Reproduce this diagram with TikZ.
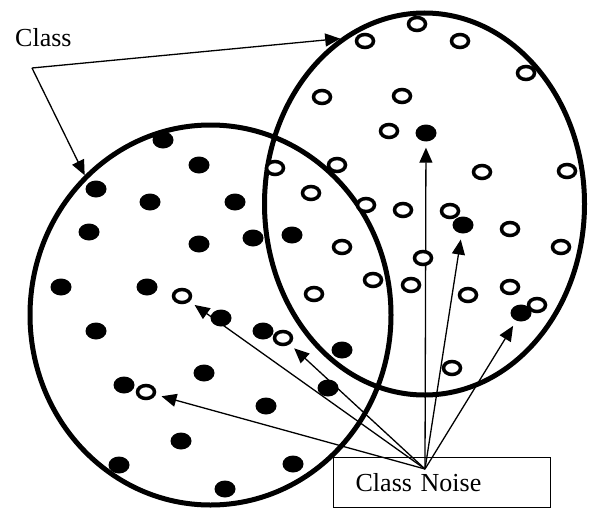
\documentclass[tikz,border=0pt]{standalone}
\usepackage{fontspec}
\setmainfont{Liberation Serif}
\usetikzlibrary{arrows.meta, positioning, shapes.geometric}
\tikzset{
  classell/.style={ellipse, draw, line width=5pt, inner sep=0pt},
  fdot/.style={ellipse, fill=black, minimum width=21pt, minimum height=17pt, inner sep=0pt},
  odot/.style={ellipse, draw, fill=white, line width=3.5pt, minimum width=17pt, minimum height=13pt, inner sep=0pt},
  noisebox/.style={rectangle, draw, line width=1.3pt, minimum height=50pt, text width=173pt, inner xsep=22pt, align=left},
  pointer/.style={-{Triangle[length=15pt, width=13pt]}, line width=1.3pt},
}

\begin{document}
\begin{tikzpicture}[x=1pt, y=-1pt, font=\fontsize{26}{30}\selectfont]
  \useasboundingbox (0,0) rectangle (593,508);
  % the two classes
  \node[classell, minimum width=361pt, minimum height=380pt] (clsA) at (210.5,315) {};
  \node[classell, minimum width=320pt, minimum height=382pt] (clsB) at (424.5,204) {};
  % labels
  \node[anchor=base west, inner sep=0pt] (lblclass) at (15,47) {Class};
  \coordinate (fork) at (32,68);
  \node[noisebox, anchor=north west] (noise) at (333,457) {Class Noise};
  \coordinate (src) at (425,469);
  % noise points
  \node[odot] (nA1) at (182,296) {};
  \node[odot] (nA2) at (283,338) {};
  \node[odot] (nA3) at (146,392) {};
  \node[fdot] (nB1) at (426,133) {};
  \node[fdot] (nB2) at (463,225) {};
  \node[fdot] (nB3) at (521,313) {};
  \foreach \n in {nA1,nA2,nA3,nB1,nB2,nB3}
    \draw[pointer, shorten >=6pt] (src) -- (\n);
  % class A members
  \foreach \x/\y [count=\i] in {163/140, 199/165, 96/189, 150/202, 235/202, 89/232,
      199/244, 253/238, 292/235, 61/287, 147/287, 221/318, 96/331, 263/331,
      204/373, 124/385, 266/406, 181/441, 119/465, 225/489, 293/464, 342/350, 328/388}
    \node[fdot] (a\i) at (\x,\y) {};
  % class B members
  \foreach \x/\y [count=\i] in {417/24, 365/41, 460/41, 526/73, 322/97, 402/96,
      389/131, 482/172, 567/171, 275/168, 337/165, 311/193, 366/205, 403/210,
      450/211, 510/229, 561/247, 342/247, 423/258, 373/280, 411/285, 314/294,
      468/295, 510/287, 537/305, 452/368}
    \node[odot] (b\i) at (\x,\y) {};
  \draw[pointer] (fork) -- (clsB.117);
  \draw[pointer] (fork) -- (clsA.132);
\end{tikzpicture}
\end{document}
